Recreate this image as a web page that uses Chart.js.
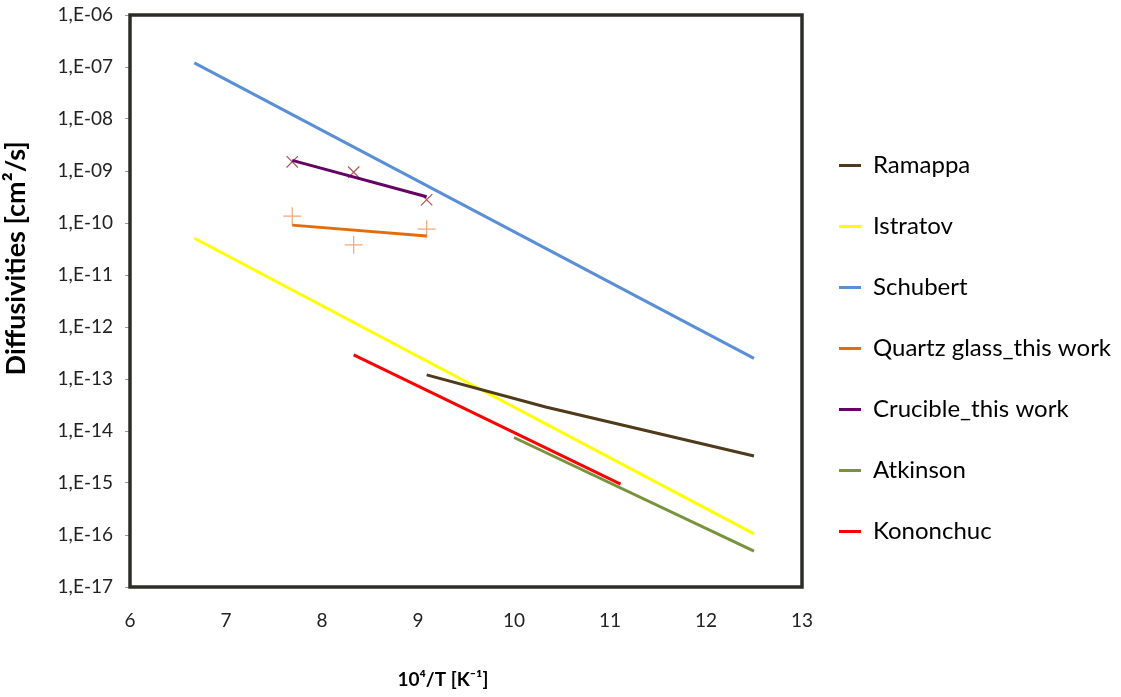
<!DOCTYPE html>
<html>
<head>
<meta charset="utf-8">
<script src="https://cdn.jsdelivr.net/npm/chart.js@4"></script>
<style>
  html, body { margin: 0; padding: 0; background: #fff; }
  #wrap { width: 1121px; height: 697px; }
</style>
</head>
<body>
<div id="wrap"><canvas id="grafico"></canvas></div>
<script>
// x = 10^4/T [K^-1], y = diffusivity [cm2/s]
let ramappaX = [9.09, 10.33, 12.5];
let ramappaY = [1.2e-13, 2.9e-14, 3.3e-15];
let istratovX = [6.67, 12.5];
let istratovY = [5.1e-11, 1.05e-16];
let schubertX = [6.67, 12.5];
let schubertY = [1.2e-7, 2.5e-13];
let quartzX = [7.69, 9.09];
let quartzY = [9.1e-11, 5.6e-11];
let crucibleX = [7.69, 9.09];
let crucibleY = [1.6e-9, 3.2e-10];
let atkinsonX = [10.0, 12.5];
let atkinsonY = [7.5e-15, 4.9e-17];
let kononchucX = [8.33, 11.11];
let kononchucY = [2.9e-13, 9.5e-16];
// measured points (no legend entry)
let quartzPuntiX = [7.69, 8.33, 9.09];
let quartzPuntiY = [1.35e-10, 3.8e-11, 7.6e-11];
let cruciblePuntiX = [7.69, 8.33, 9.09];
let cruciblePuntiY = [1.5e-9, 9.5e-10, 2.8e-10];

let yTicks = [1e-6, 1e-7, 1e-8, 1e-9, 1e-10, 1e-11, 1e-12, 1e-13, 1e-14, 1e-15, 1e-16, 1e-17];
let xMin = 6, xMax = 13;
let larghezzaLegenda = 319;

// titles are not centred on the axes in the original, pad them with spaces
const nbsp = '\u00a0';
let titoloX = '10⁴/T [K⁻¹]' + nbsp.repeat(10);
let titoloY = nbsp.repeat(13) + 'Diffusivities [cm²/s]';

function punti(xs, ys) {
    let out = [];
    for (var i = 0; i < xs.length; i++) {
        out.push({x: xs[i], y: ys[i]});
    }
    return out;
}

function linea(label, xs, ys, colore) {
    return {
        label: label,
        data: punti(xs, ys),
        showLine: true,
        borderColor: colore,
        backgroundColor: colore,
        borderWidth: 3,
        pointRadius: 0,
        pointHoverRadius: 0
    };
}

function marker(xs, ys, stile, colore, r) {
    return {
        label: '',
        data: punti(xs, ys),
        showLine: false,
        pointStyle: stile,
        pointRadius: r,
        borderColor: colore,
        backgroundColor: colore,
        pointBorderWidth: 1.2
    };
}

const bordoArea = {
    id: 'bordoArea',
    afterDraw(chart) {
        const a = chart.chartArea;
        const c = chart.ctx;
        c.save();
        c.strokeStyle = '#2d2d28';
        c.lineWidth = 3.5;
        c.strokeRect(a.left, a.top, a.right - a.left, a.bottom - a.top);
        c.restore();
    }
};

// the legend box is capped at 1/4 of the width, make it wider
const legendaLarga = {
    id: 'legendaLarga',
    beforeLayout(chart) {
        const leg = chart.legend;
        if (leg && !leg._largo) {
            const fit = leg.fit;
            leg.fit = function () {
                fit.call(this);
                this.width = larghezzaLegenda;
            };
            leg._largo = true;
        }
    }
};

var ctx = document.getElementById('grafico');
var myChart = new Chart(ctx, {
    type: 'scatter',
    data: {
        datasets: [
            linea('Ramappa', ramappaX, ramappaY, '#4f3a1c'),
            linea('Istratov', istratovX, istratovY, '#ffff00'),
            linea('Schubert', schubertX, schubertY, '#5a8fd8'),
            linea('Quartz glass_this work', quartzX, quartzY, '#e46c0a'),
            linea('Crucible_this work', crucibleX, crucibleY, '#650065'),
            linea('Atkinson', atkinsonX, atkinsonY, '#77933c'),
            linea('Kononchuc', kononchucX, kononchucY, '#ff0000'),
            marker(quartzPuntiX, quartzPuntiY, 'cross', '#f6a877', 9),
            marker(cruciblePuntiX, cruciblePuntiY, 'crossRot', '#a8564f', 8)
        ]
    },
    options: {
        responsive: true,
        maintainAspectRatio: false,
        animation: false,
        layout: { padding: { top: 0, right: 0, left: 0, bottom: 0 } },
        scales: {
            x: {
                type: 'linear',
                min: xMin,
                max: xMax,
                grid: { display: false },
                border: { display: false },
                ticks: { stepSize: 1, color: '#222', font: { family: 'Lato', size: 19 }, padding: 14 },
                title: {
                    display: true,
                    text: titoloX,
                    color: '#000',
                    font: { family: 'Lato', size: 19, weight: 'bold' },
                    padding: { top: 4, bottom: 6 }
                },
                afterFit: function (scale) { scale.height = 110; }
            },
            y: {
                type: 'logarithmic',
                min: 1e-17,
                max: 1e-6,
                grid: { display: true, drawOnChartArea: false, tickLength: 5, color: '#999' },
                border: { display: false },
                afterBuildTicks: function (scale) {
                    scale.ticks = yTicks.map(function (v) { return {value: v}; });
                },
                ticks: {
                    color: '#222',
                    font: { family: 'Lato', size: 19 },
                    padding: 12,
                    callback: function (v) {
                        var e = Math.round(Math.log10(v));
                        var s = String(Math.abs(e)).padStart(2, '0');
                        return '1,E' + (e < 0 ? '-' : '+') + s;
                    }
                },
                title: {
                    display: true,
                    text: titoloY,
                    color: '#000',
                    font: { family: 'Lato', size: 27, weight: 'bold' },
                    padding: { top: 0, bottom: 2 }
                },
                afterFit: function (scale) {
                    scale.width = 130;
                    scale.paddingTop = 15;
                }
            }
        },
        plugins: {
            tooltip: { enabled: false },
            legend: {
                position: 'right',
                labels: {
                    color: '#000',
                    font: { family: 'Lato', size: 24 },
                    boxWidth: 22,
                    boxHeight: 3,
                    padding: 37,
                    filter: function (item) { return item.text !== ''; },
                    generateLabels: function (chart) {
                        return chart.data.datasets.map(function (ds, i) {
                            return {
                                text: ds.label,
                                fillStyle: ds.borderColor,
                                strokeStyle: ds.borderColor,
                                lineWidth: 0,
                                datasetIndex: i
                            };
                        });
                    }
                }
            }
        }
    },
    plugins: [bordoArea, legendaLarga]
});
</script>
</body>
</html>
